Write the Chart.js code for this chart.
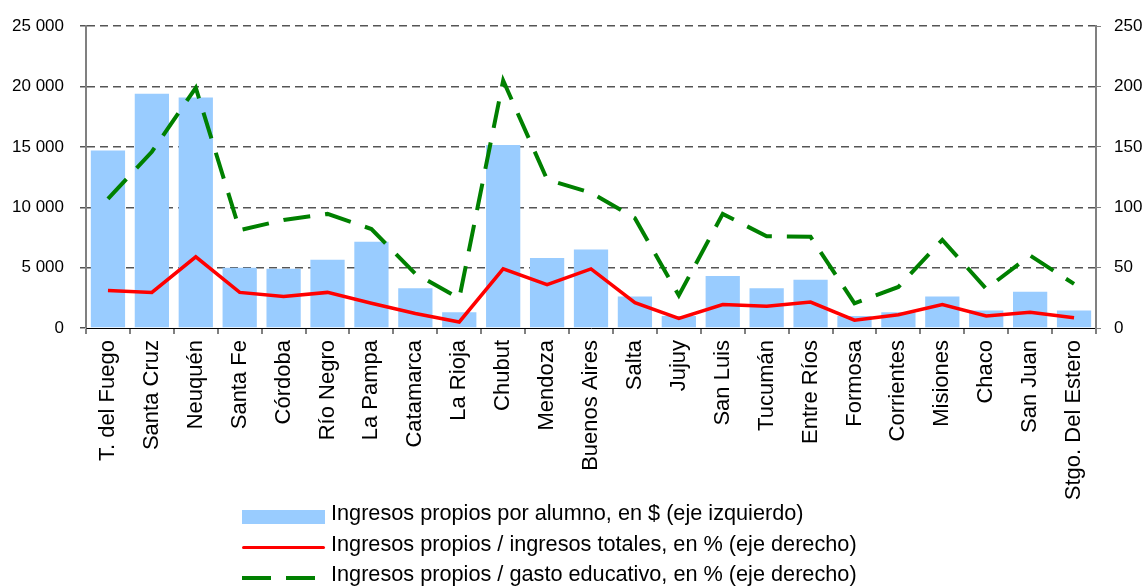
<!DOCTYPE html>
<html>
<head>
<meta charset="utf-8">
<script src="https://cdn.jsdelivr.net/npm/chart.js@4.4.1/dist/chart.umd.min.js"></script>
<style>
  html, body { margin: 0; padding: 0; background: #fff; }
  #wrap { position: relative; width: 1143px; height: 587px; overflow: hidden; }
  #box { position: absolute; left: 0; top: 0; width: 1143px; height: 500px; }
  #legend { position: absolute; left: 242px; top: 498px; font: 21.7px "Liberation Sans", Arial, sans-serif; color: #000; }
  #legend .row { position: relative; height: 30.5px; line-height: 30px; white-space: nowrap; padding-left: 89px; }
  #legend .sw { position: absolute; left: 0; width: 83px; }
</style>
</head>
<body>
<div id="wrap">
  <div id="box"><canvas id="chart"></canvas></div>
  <div id="legend"></div>
</div>
<script>
// Provincias (eje de categorías)
const provincias = [
    "T. del Fuego", "Santa Cruz", "Neuquén", "Santa Fe", "Córdoba", "Río Negro",
    "La Pampa", "Catamarca", "La Rioja", "Chubut", "Mendoza", "Buenos Aires",
    "Salta", "Jujuy", "San Luis", "Tucumán", "Entre Ríos", "Formosa",
    "Corrientes", "Misiones", "Chaco", "San Juan", "Stgo. Del Estero",
];

// Ingresos propios por alumno, en $ (eje izquierdo)
const ingresosPorAlumno = [
    14700, 19400, 19100, 5000, 4900, 5650, 7150, 3300, 1300, 15150, 5800, 6500,
    2600, 1000, 4300, 3300, 4000, 1000, 1300, 2600, 1450, 3000, 1450,
];

// Ingresos propios / ingresos totales, en % (eje derecho)
const ingresosSobreTotales = [
    31, 29.5, 59, 29.5, 26, 29.5, 20.5, 12, 5, 49, 36, 49,
    21, 8, 19.5, 18, 21.5, 6.5, 11, 19.5, 10, 13, 8.5,
];

// Ingresos propios / gasto educativo, en % (eje derecho)
const ingresosSobreGasto = [
    107, 146, 199, 81, 89.5, 94.5, 82, 45, 24.5, 205, 123, 112,
    91, 27, 94.5, 76, 75.5, 20.5, 34, 73, 32.5, 60, 36.5,
];

// Rangos de los ejes
const ejeIzquierdo = { min: 0, max: 25000, paso: 5000 };
const ejeDerecho = { min: 0, max: 250, paso: 50 };

const FONT = "'Liberation Sans', Arial, sans-serif";
const COLORS = {
    bar: "#99CCFF",
    red: "#FF0000",
    green: "#008000",
    axis: "#808080",
    grid: "#555555",
};

function miles(v) {
    return String(v).replace(/\B(?=(\d{3})+(?!\d))/g, " ");
}

const chart = new Chart(document.getElementById("chart").getContext("2d"), {
    type: "bar",
    data: {
        labels: provincias,
        datasets: [
            {
                type: "bar",
                label: "Ingresos propios por alumno, en $ (eje izquierdo)",
                data: ingresosPorAlumno,
                backgroundColor: COLORS.bar,
                borderWidth: 0,
                barPercentage: 0.78,
                categoryPercentage: 1.0,
                yAxisID: "y",
                order: 3,
            },
            {
                type: "line",
                label: "Ingresos propios / ingresos totales, en % (eje derecho)",
                data: ingresosSobreTotales,
                borderColor: COLORS.red,
                borderWidth: 3.5,
                pointRadius: 0,
                tension: 0,
                fill: false,
                yAxisID: "y1",
                order: 2,
            },
            {
                type: "line",
                label: "Ingresos propios / gasto educativo, en % (eje derecho)",
                data: ingresosSobreGasto,
                borderColor: COLORS.green,
                borderWidth: 4,
                borderDash: [27, 15],
                pointRadius: 0,
                tension: 0,
                fill: false,
                yAxisID: "y1",
                order: 1,
            },
        ],
    },
    options: {
        responsive: true,
        maintainAspectRatio: false,
        animation: false,
        layout: { padding: { top: 23, left: 0, right: 0, bottom: 0 } },
        plugins: {
            legend: { display: false },
            tooltip: { enabled: false },
        },
        scales: {
            x: {
                offset: true,
                grid: {
                    offset: true,
                    drawOnChartArea: false,
                    drawTicks: true,
                    tickLength: 6,
                    color: COLORS.axis,
                    lineWidth: 2,
                },
                border: { display: true, color: "#000", width: 1 },
                ticks: {
                    color: "#000",
                    font: { family: FONT, size: 22 },
                    minRotation: 90,
                    maxRotation: 90,
                    autoSkip: false,
                    padding: 6,
                },
                afterFit: (scale) => { scale.height = 172; },
            },
            y: {
                position: "left",
                min: ejeIzquierdo.min,
                max: ejeIzquierdo.max,
                grid: {
                    color: (ctx) => (ctx.tick && ctx.tick.value === 0 ? "rgba(0,0,0,0)" : COLORS.grid),
                    lineWidth: 1.5,
                    tickLength: 6,
                    tickColor: COLORS.grid,
                },
                border: { display: true, color: COLORS.axis, width: 2, dash: [8, 5] },
                ticks: {
                    stepSize: ejeIzquierdo.paso,
                    color: "#000",
                    font: { family: FONT, size: 17 },
                    padding: 16,
                    callback: (v) => miles(v),
                },
                afterFit: (scale) => { scale.width = 86; },
            },
            y1: {
                position: "right",
                min: ejeDerecho.min,
                max: ejeDerecho.max,
                grid: {
                    drawOnChartArea: false,
                    tickLength: 5,
                    color: COLORS.axis,
                    lineWidth: 1,
                },
                border: { display: true, color: COLORS.axis, width: 2 },
                ticks: {
                    stepSize: ejeDerecho.paso,
                    color: "#000",
                    font: { family: FONT, size: 17 },
                    padding: 13,
                },
                afterFit: (scale) => { scale.width = 47; },
            },
        },
    },
});

// Leyenda en HTML, apilada a la izquierda
function buildLegend(chart) {
    const box = document.getElementById("legend");
    chart.data.datasets.forEach((ds) => {
        const row = document.createElement("div");
        row.className = "row";
        const sw = document.createElement("span");
        sw.className = "sw";
        if (ds.type === "bar") {
            sw.style.top = "11.5px";
            sw.style.height = "14px";
            sw.style.background = ds.backgroundColor;
        } else if (ds.borderDash) {
            const [on, off] = ds.borderDash;
            sw.style.top = "17px";
            sw.style.height = ds.borderWidth + "px";
            sw.style.background =
                `repeating-linear-gradient(90deg, ${ds.borderColor} 0 ${on + 2}px, transparent ${on + 2}px ${on + off + 2}px)`;
        } else {
            sw.style.top = "17px";
            sw.style.height = ds.borderWidth + "px";
            sw.style.background = ds.borderColor;
            sw.style.borderRadius = "2px";
        }
        row.appendChild(sw);
        row.appendChild(document.createTextNode(ds.label));
        box.appendChild(row);
    });
}

buildLegend(chart);
</script>
</body>
</html>
